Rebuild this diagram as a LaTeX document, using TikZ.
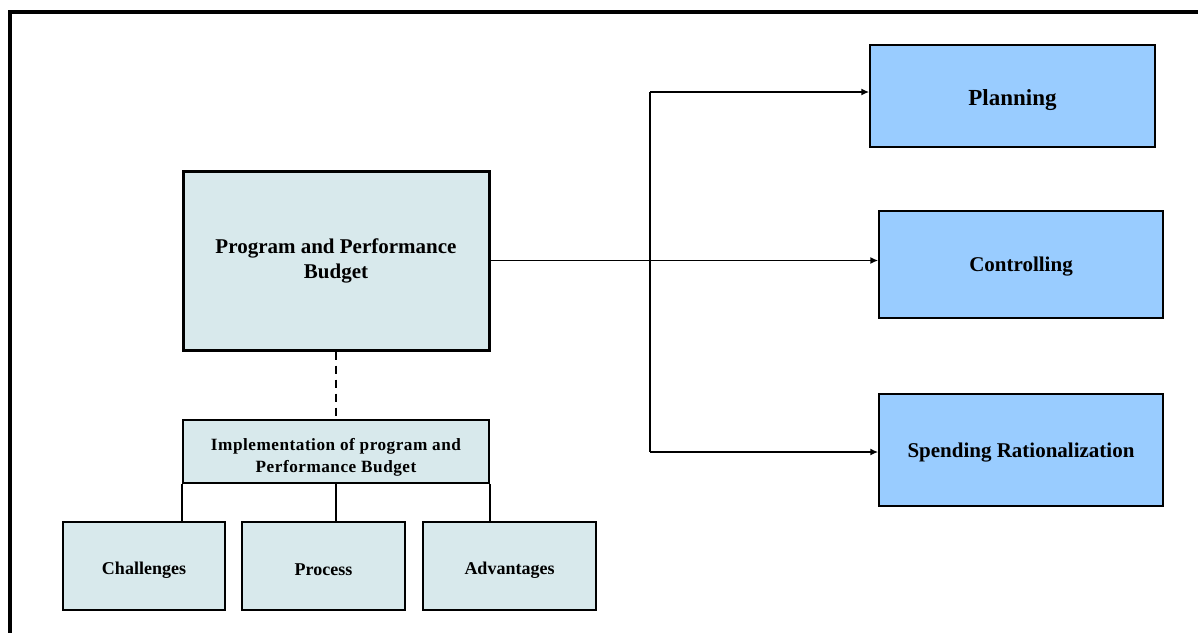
\documentclass[tikz,border=0pt]{standalone}
\usepackage{fontspec}
\setmainfont{Liberation Serif}
\usetikzlibrary{arrows.meta,positioning}

\definecolor{boxgray}{RGB}{216,233,236}
\definecolor{boxblue}{RGB}{153,204,255}

\newcommand{\lowered}[2]{\raisebox{-#1}[\height][\depth]{#2}}

\tikzset{
  graybox/.style={draw, fill=boxgray, line width=0.75pt, align=center, font=\bfseries\fontsize{9}{10}\selectfont},
  bluebox/.style={draw, fill=boxblue, line width=0.75pt, align=center, font=\bfseries\fontsize{10.5}{12}\selectfont},
  link/.style={line width=0.8pt},
}

\begin{document}
\begin{tikzpicture}[x=0.5pt, y=-0.5pt, >={Latex[length=4pt,width=3.5pt]}]
   \useasboundingbox (0,0) rectangle (1198,632);
   \clip (0,0) rectangle (1198,632);
   % frame
   \draw[line width=2pt] (10,640) -- (10,12) -- (1210,12);

   \node[graybox, line width=1.5pt, minimum width=153pt, minimum height=89.5pt,
         font=\bfseries\fontsize{10.5}{12.5}\selectfont] (ppb) at (336,260.5)
         {Program and Performance\\Budget};
   \node[graybox, minimum width=153pt, minimum height=31.5pt,
         font=\bfseries\fontsize{8.6}{11}\selectfont\addfontfeatures{LetterSpace=3}] (impl) at (336,451.5)
         {\lowered{3pt}{Implementation of program and}\\\lowered{3pt}{Performance Budget}};
   \node[graybox, minimum width=81pt, minimum height=44pt] (chal) at (144,566) {\lowered{2pt}{Challenges}};
   \node[graybox, minimum width=81.5pt, minimum height=44pt] (proc) at (323.5,566) {\lowered{2pt}{Process}};
   \node[graybox, minimum width=86.5pt, minimum height=44pt] (adv) at (509.5,566) {\lowered{2pt}{Advantages}};

   \node[bluebox, minimum width=142.5pt, minimum height=51pt,
         font=\bfseries\fontsize{11.5}{13}\selectfont] (plan) at (1012.5,96) {\lowered{2pt}{Planning}};
   \node[bluebox, minimum width=142pt, minimum height=53.5pt] (ctrl) at (1021,264.5) {\lowered{1pt}{Controlling}};
   \node[bluebox, minimum width=142pt, minimum height=56pt] (spend) at (1021,450) {\lowered{1.5pt}{Spending Rationalization}};

   \coordinate (top) at (650,92);
   \coordinate (bot) at (650,452);

   \draw[link] (top) -- (bot);
   \draw[link,->] (top) -- (top -| plan.west);
   \draw[link,->] (ppb.east) -- (ppb.east -| ctrl.west);
   \draw[link,->] (bot) -- (bot -| spend.west);

   \draw[link, dashed, dash pattern=on 4pt off 3pt] (ppb.south) -- (impl.north);
   \draw[link] (impl.south west) -- (impl.south west |- chal.north);
   \draw[link] (impl.south) -- (impl.south |- proc.north);
   \draw[link] (impl.south east) -- (impl.south east |- adv.north);
\end{tikzpicture}
\end{document}
